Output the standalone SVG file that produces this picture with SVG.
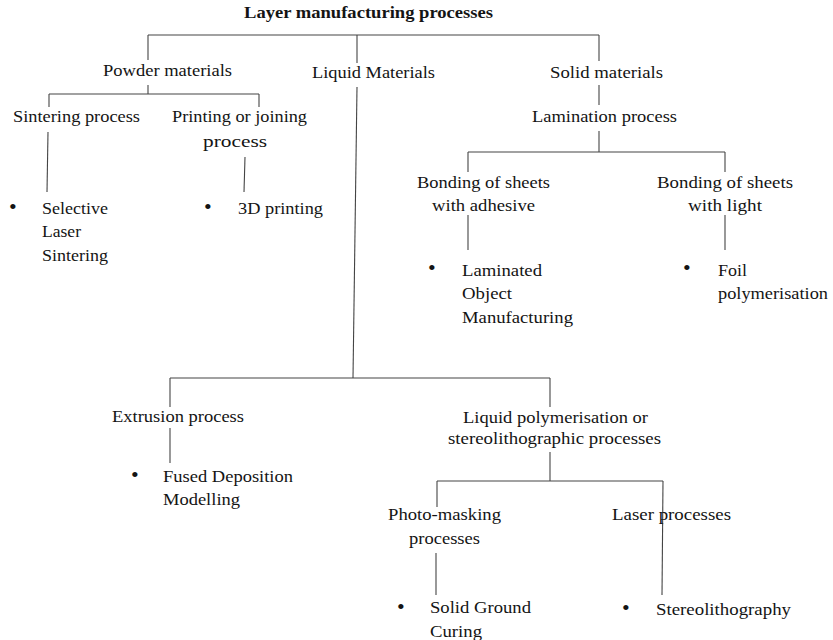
<svg xmlns="http://www.w3.org/2000/svg" width="833" height="640" viewBox="0 0 833 640">
<style>
text{font-family:"Liberation Serif","Times New Roman",serif;font-size:16.5px;fill:#141414}
.t{font-weight:bold;font-size:16.5px}
.b{font-size:22px}
#connectors line{stroke:#444;stroke-width:1.1;fill:none}
</style>
<rect width="833" height="640" fill="#ffffff"/>
<g id="connectors">
<line x1="148" y1="35" x2="599" y2="35"/>
<line x1="148" y1="35" x2="148" y2="60"/>
<line x1="148" y1="85" x2="148" y2="94"/>
<line x1="357" y1="35" x2="357" y2="63"/>
<line x1="357" y1="87" x2="353" y2="378"/>
<line x1="599" y1="35" x2="599" y2="61"/>
<line x1="599" y1="85" x2="599" y2="105"/>
<line x1="599" y1="131" x2="599" y2="152"/>
<line x1="49" y1="94" x2="259" y2="94"/>
<line x1="49" y1="94" x2="49" y2="107"/>
<line x1="48" y1="132" x2="47" y2="192"/>
<line x1="259" y1="94" x2="259" y2="107"/>
<line x1="245" y1="157" x2="244" y2="192"/>
<line x1="468" y1="152" x2="725" y2="152"/>
<line x1="468" y1="152" x2="468" y2="172"/>
<line x1="468" y1="215" x2="468" y2="250"/>
<line x1="725" y1="152" x2="725" y2="172"/>
<line x1="725" y1="215" x2="725" y2="250"/>
<line x1="170" y1="378" x2="550" y2="378"/>
<line x1="170" y1="378" x2="170" y2="407"/>
<line x1="170" y1="428" x2="170" y2="463"/>
<line x1="550" y1="378" x2="550" y2="407"/>
<line x1="550" y1="452" x2="550" y2="481"/>
<line x1="437" y1="481" x2="663" y2="481"/>
<line x1="437" y1="481" x2="437" y2="507"/>
<line x1="436" y1="553" x2="436" y2="595"/>
<line x1="663" y1="481" x2="662" y2="595"/>
</g>
<g id="root"><text class="t" x="244" y="18" textLength="249" lengthAdjust="spacingAndGlyphs">Layer manufacturing processes</text></g>
<g id="powder"><text x="103" y="76" textLength="129" lengthAdjust="spacingAndGlyphs">Powder materials</text></g>
<g id="liquid"><text x="312" y="78" textLength="123" lengthAdjust="spacingAndGlyphs">Liquid Materials</text></g>
<g id="solid"><text x="550" y="78" textLength="113" lengthAdjust="spacingAndGlyphs">Solid materials</text></g>
<g id="sintering"><text x="13" y="122" textLength="127" lengthAdjust="spacingAndGlyphs">Sintering process</text></g>
<g id="printing"><text x="172" y="122" textLength="135" lengthAdjust="spacingAndGlyphs">Printing or joining</text><text x="203" y="147" textLength="64" lengthAdjust="spacingAndGlyphs">process</text></g>
<g id="lamination"><text x="532" y="122" textLength="145" lengthAdjust="spacingAndGlyphs">Lamination process</text></g>
<g id="sls"><text class="b" x="9" y="214">•</text><text x="42" y="214" textLength="66" lengthAdjust="spacingAndGlyphs">Selective</text><text x="42" y="237" textLength="39" lengthAdjust="spacingAndGlyphs">Laser</text><text x="42" y="261" textLength="66" lengthAdjust="spacingAndGlyphs">Sintering</text></g>
<g id="3dp"><text class="b" x="204" y="214">•</text><text x="238" y="214" textLength="85" lengthAdjust="spacingAndGlyphs">3D printing</text></g>
<g id="adhesive"><text x="417" y="188" textLength="133" lengthAdjust="spacingAndGlyphs">Bonding of sheets</text><text x="432" y="211" textLength="103" lengthAdjust="spacingAndGlyphs">with adhesive</text></g>
<g id="light"><text x="657" y="188" textLength="136" lengthAdjust="spacingAndGlyphs">Bonding of sheets</text><text x="688" y="211" textLength="74" lengthAdjust="spacingAndGlyphs">with light</text></g>
<g id="lom"><text class="b" x="428" y="275">•</text><text x="462" y="276" textLength="80" lengthAdjust="spacingAndGlyphs">Laminated</text><text x="462" y="299" textLength="50" lengthAdjust="spacingAndGlyphs">Object</text><text x="462" y="323" textLength="111" lengthAdjust="spacingAndGlyphs">Manufacturing</text></g>
<g id="foil"><text class="b" x="683" y="275">•</text><text x="718" y="276" textLength="29" lengthAdjust="spacingAndGlyphs">Foil</text><text x="718" y="299" textLength="110" lengthAdjust="spacingAndGlyphs">polymerisation</text></g>
<g id="extrusion"><text x="112" y="422" textLength="132" lengthAdjust="spacingAndGlyphs">Extrusion process</text></g>
<g id="fdm"><text class="b" x="131" y="482">•</text><text x="163" y="482" textLength="130" lengthAdjust="spacingAndGlyphs">Fused Deposition</text><text x="163" y="505" textLength="77" lengthAdjust="spacingAndGlyphs">Modelling</text></g>
<g id="liqpoly"><text x="463" y="423" textLength="185" lengthAdjust="spacingAndGlyphs">Liquid polymerisation or</text><text x="448" y="444" textLength="213" lengthAdjust="spacingAndGlyphs">stereolithographic processes</text></g>
<g id="photomask"><text x="388" y="520" textLength="113" lengthAdjust="spacingAndGlyphs">Photo-masking</text><text x="409" y="544" textLength="71" lengthAdjust="spacingAndGlyphs">processes</text></g>
<g id="laser"><text x="612" y="520" textLength="119" lengthAdjust="spacingAndGlyphs">Laser processes</text></g>
<g id="sgc"><text class="b" x="397" y="614">•</text><text x="430" y="613" textLength="101" lengthAdjust="spacingAndGlyphs">Solid Ground</text><text x="430" y="637" textLength="52" lengthAdjust="spacingAndGlyphs">Curing</text></g>
<g id="sla"><text class="b" x="622" y="615">•</text><text x="656" y="615" textLength="135" lengthAdjust="spacingAndGlyphs">Stereolithography</text></g>
</svg>
